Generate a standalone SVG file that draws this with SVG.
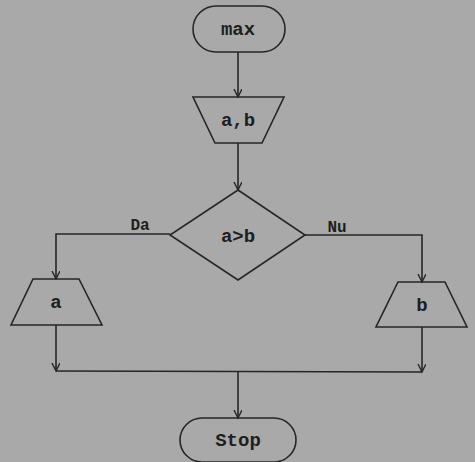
<svg xmlns="http://www.w3.org/2000/svg" width="475" height="462" viewBox="0 0 475 462">
<style>
.shape{fill:none;stroke:#262626;stroke-width:1.6;stroke-linejoin:miter}
.conn{fill:none;stroke:#262626;stroke-width:1.6}
.t{font-family:"Liberation Mono","DejaVu Sans Mono",monospace;font-weight:bold;font-size:19px;fill:#1e1e1e;text-anchor:middle}
.lbl{font-family:"Liberation Mono","DejaVu Sans Mono",monospace;font-weight:bold;font-size:16px;fill:#1e1e1e;text-anchor:middle}
</style>
<defs>
<marker id="arr" markerWidth="10" markerHeight="10" refX="8" refY="4" orient="auto" markerUnits="userSpaceOnUse">
<path d="M0,0 L8,4 L0,8" fill="none" stroke="#262626" stroke-width="1.4"/>
</marker>
</defs>
<rect width="475" height="462" fill="#a9a9a9"/>
<g id="connectors">
<path class="conn" d="M238,52 V97" marker-end="url(#arr)"/>
<path class="conn" d="M238,143 V190" marker-end="url(#arr)"/>
<path class="conn" d="M170,234 H56 V279" marker-end="url(#arr)"/>
<path class="conn" d="M305,235 H422 V282" marker-end="url(#arr)"/>
<path class="conn" d="M56,325 V371" marker-end="url(#arr)"/>
<path class="conn" d="M422,327 V372" marker-end="url(#arr)"/>
<path class="conn" d="M56,371 L422,372"/>
<path class="conn" d="M238,372 V418" marker-end="url(#arr)"/>
<text class="lbl" x="140" y="230">Da</text>
<text class="lbl" x="337" y="232">Nu</text>
</g>
<g id="start">
<rect class="shape" x="193" y="6" width="92" height="46" rx="23"/>
<text class="t" x="238" y="35">max</text>
</g>
<g id="input">
<polygon class="shape" points="193,97 284,97 262,143 215,143"/>
<text class="t" x="238" y="126">a,b</text>
</g>
<g id="decision">
<polygon class="shape" points="238,190 305,235 238,280 170,235"/>
<text class="t" x="238" y="242">a&gt;b</text>
</g>
<g id="outA">
<polygon class="shape" points="33,279 79,279 102,325 11,325"/>
<text class="t" x="56" y="308">a</text>
</g>
<g id="outB">
<polygon class="shape" points="398,282 445,282 467,327 376,327"/>
<text class="t" x="422" y="311">b</text>
</g>
<g id="stop">
<rect class="shape" x="180" y="418" width="116" height="44" rx="22"/>
<text class="t" x="238" y="446">Stop</text>
</g>
</svg>
